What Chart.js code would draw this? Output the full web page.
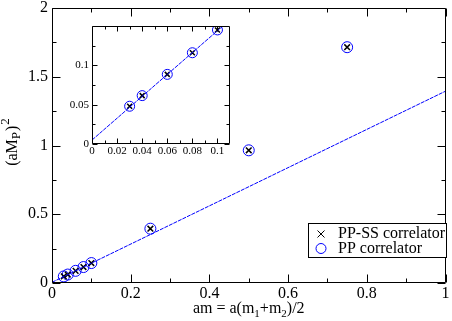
<!DOCTYPE html>
<html>
<head>
<meta charset="utf-8">
<script src="https://cdn.jsdelivr.net/npm/chart.js@4/dist/chart.umd.min.js"></script>
<style>
  body { margin: 0; background: #fff; }
  #wrap { position: relative; width: 452px; height: 321px; }
  #insetChart { position: absolute; left: 50px; top: 14px; }
</style>
</head>
<body>
<div id="wrap">
  <canvas id="mainChart" width="452" height="321"></canvas>
  <canvas id="insetChart" width="190" height="150"></canvas>
</div>
<script>
// data
const masses = [0.03, 0.04, 0.06, 0.08, 0.1, 0.25, 0.5, 0.75];
const ppssValues = [0.048, 0.0615, 0.0885, 0.116, 0.145, 0.395, 0.965, 1.715];
const ppValues = [0.048, 0.0615, 0.0885, 0.116, 0.145, 0.395, 0.965, 1.715];
const fitX = [0, 1];
const fitY = [0.005, 1.395];

const xTicks = [0, 0.2, 0.4, 0.6, 0.8, 1];
const yTicks = [0, 0.5, 1, 1.5, 2];
const insetXTicks = [0, 0.02, 0.04, 0.06, 0.08, 0.1];
const insetYTicks = [0, 0.05, 0.1];

const BLUE = '#0000ff';
const SERIF = "'Liberation Serif', 'DejaVu Serif', serif";

Chart.defaults.font.family = SERIF;
Chart.defaults.font.size = 16;
Chart.defaults.color = '#000';
Chart.defaults.animation = false;

function pts(xs, ys) {
  return xs.map((x, i) => ({ x: x, y: ys[i] }));
}

function makeDatasets(crossR, circR) {
  return [
    {
      label: 'fit', data: pts(fitX, fitY), showLine: true,
      borderColor: BLUE, borderWidth: 1, borderDash: [4, 1], pointRadius: 0
    },
    {
      label: 'PP-SS correlator', data: pts(masses, ppssValues), showLine: false,
      pointStyle: 'crossRot', pointRadius: crossR, borderColor: '#000', borderWidth: 1.5
    },
    {
      label: 'PP correlator', data: pts(masses, ppValues), showLine: false,
      pointStyle: 'circle', pointRadius: circR, borderColor: BLUE,
      backgroundColor: 'rgba(0,0,0,0)', borderWidth: 1
    }
  ];
}

// frame around the plot with inward major/minor ticks on all four sides
const framePlugin = {
  id: 'frame',
  afterDatasetsDraw(chart, args, opts) {
    const { ctx, chartArea: a, scales } = chart;
    const L = Math.round(a.left) + 0.5, R = Math.round(a.right) - 0.5;
    const T = Math.round(a.top) + 0.5, B = Math.round(a.bottom) - 0.5;
    ctx.save();
    ctx.strokeStyle = '#000';
    ctx.lineWidth = 1;
    ctx.beginPath();
    ctx.rect(L, T, R - L, B - T);

    function minors(ticks, max) {
      const step = ticks[1] - ticks[0];
      const out = [];
      for (let v = ticks[0] + step / 2; v < max - 1e-9; v += step) out.push(v);
      return out;
    }
    function xMarks(vals, len) {
      vals.forEach(v => {
        const px = Math.round(scales.x.getPixelForValue(v)) + 0.5;
        ctx.moveTo(px, B); ctx.lineTo(px, B - len);
        ctx.moveTo(px, T); ctx.lineTo(px, T + len);
      });
    }
    function yMarks(vals, len) {
      vals.forEach(v => {
        const py = Math.round(scales.y.getPixelForValue(v)) + 0.5;
        ctx.moveTo(L, py); ctx.lineTo(L + len, py);
        ctx.moveTo(R, py); ctx.lineTo(R - len, py);
      });
    }
    xMarks(opts.xTicks, opts.major);
    yMarks(opts.yTicks, opts.major);
    xMarks(minors(opts.xTicks, scales.x.max), opts.minor);
    yMarks(minors(opts.yTicks, scales.y.max), opts.minor);
    ctx.stroke();
    ctx.restore();
  }
};

// draws a run of text pieces with baseline shifts (for sub/superscripts)
function drawRich(ctx, parts, cx, cy) {
  let w = 0;
  parts.forEach(p => {
    ctx.font = p[2] + 'px ' + SERIF;
    w += ctx.measureText(p[0]).width + (p[3] || 0);
  });
  let x = cx - w / 2;
  parts.forEach(p => {
    ctx.font = p[2] + 'px ' + SERIF;
    ctx.fillText(p[0], x, cy + p[1]);
    x += ctx.measureText(p[0]).width + (p[3] || 0);
  });
}

const labelsPlugin = {
  id: 'labels',
  afterDraw(chart) {
    const { ctx, chartArea: a } = chart;
    ctx.save();
    ctx.fillStyle = '#000';
    ctx.textBaseline = 'alphabetic';
    // x title
    drawRich(ctx, [
      ['am = a(m', 0, 16], ['1', 4, 11], ['+m', 0, 16], ['2', 4, 11], [')/2', 0, 16]
    ], (a.left + a.right) / 2, 313);
    // y title
    ctx.translate(17, 142);
    ctx.rotate(-Math.PI / 2);
    drawRich(ctx, [
      ['(aM', 0, 16], ['P', 3, 13, 1], [')', 0, 16, 1], ['2', -8, 13]
    ], 0, 0);
    ctx.restore();

    // legend box
    ctx.save();
    ctx.fillStyle = '#fff';
    ctx.strokeStyle = '#000';
    ctx.lineWidth = 1;
    ctx.fillRect(308, 223, 139, 35);
    ctx.strokeRect(308.5, 223.5, 138, 34);
    ctx.beginPath();
    ctx.moveTo(317.5, 230.5); ctx.lineTo(324.5, 237.5);
    ctx.moveTo(324.5, 230.5); ctx.lineTo(317.5, 237.5);
    ctx.stroke();
    ctx.strokeStyle = BLUE;
    ctx.beginPath();
    ctx.arc(321, 248.5, 5, 0, Math.PI * 2);
    ctx.stroke();
    ctx.fillStyle = '#000';
    ctx.font = '16px ' + SERIF;
    ctx.textBaseline = 'middle';
    ctx.fillText('PP-SS correlator', 338, 234);
    ctx.fillText('PP correlator', 338, 249);
    ctx.restore();
  }
};

function fixedScale(ticks, min, max, size, pos, fontSize, padding) {
  return {
    type: 'linear', position: pos, min: min, max: max,
    grid: { display: false, drawTicks: false },
    border: { display: false },
    ticks: {
      padding: padding, font: { family: SERIF, size: fontSize },
      autoSkip: false, maxRotation: 0,
      callback: v => String(+Number(v).toFixed(4))
    },
    afterBuildTicks: s => { s.ticks = ticks.map(v => ({ value: v })); },
    afterFit: s => {
      if (pos === 'bottom') { s.height = size; s.paddingLeft = 0; s.paddingRight = 0; }
      else { s.width = size; s.paddingTop = 0; s.paddingBottom = 0; }
    }
  };
}

new Chart(document.getElementById('mainChart'), {
  type: 'scatter',
  data: { datasets: makeDatasets(4, 5.5) },
  options: {
    responsive: false,
    layout: { padding: { top: 8, right: 5, left: 0, bottom: 0 } },
    plugins: {
      legend: { display: false },
      tooltip: { enabled: false },
      frame: { xTicks: xTicks, yTicks: yTicks, major: 8, minor: 4 }
    },
    scales: {
      x: fixedScale(xTicks, 0, 1, 38, 'bottom', 16, 1),
      y: fixedScale(yTicks, 0, 2, 52, 'left', 16, 4)
    }
  },
  plugins: [framePlugin, labelsPlugin]
});

new Chart(document.getElementById('insetChart'), {
  type: 'scatter',
  data: { datasets: makeDatasets(3.5, 5) },
  options: {
    responsive: false,
    layout: { padding: { top: 12, right: 10, left: 0, bottom: 0 } },
    plugins: {
      legend: { display: false },
      tooltip: { enabled: false },
      frame: { xTicks: insetXTicks, yTicks: insetYTicks, major: 5, minor: 3 }
    },
    scales: {
      x: fixedScale(insetXTicks, 0, 0.11, 20, 'bottom', 11, 1),
      y: fixedScale(insetYTicks, 0, 0.15, 42, 'left', 11, 3)
    }
  },
  plugins: [framePlugin]
});
</script>
</body>
</html>
